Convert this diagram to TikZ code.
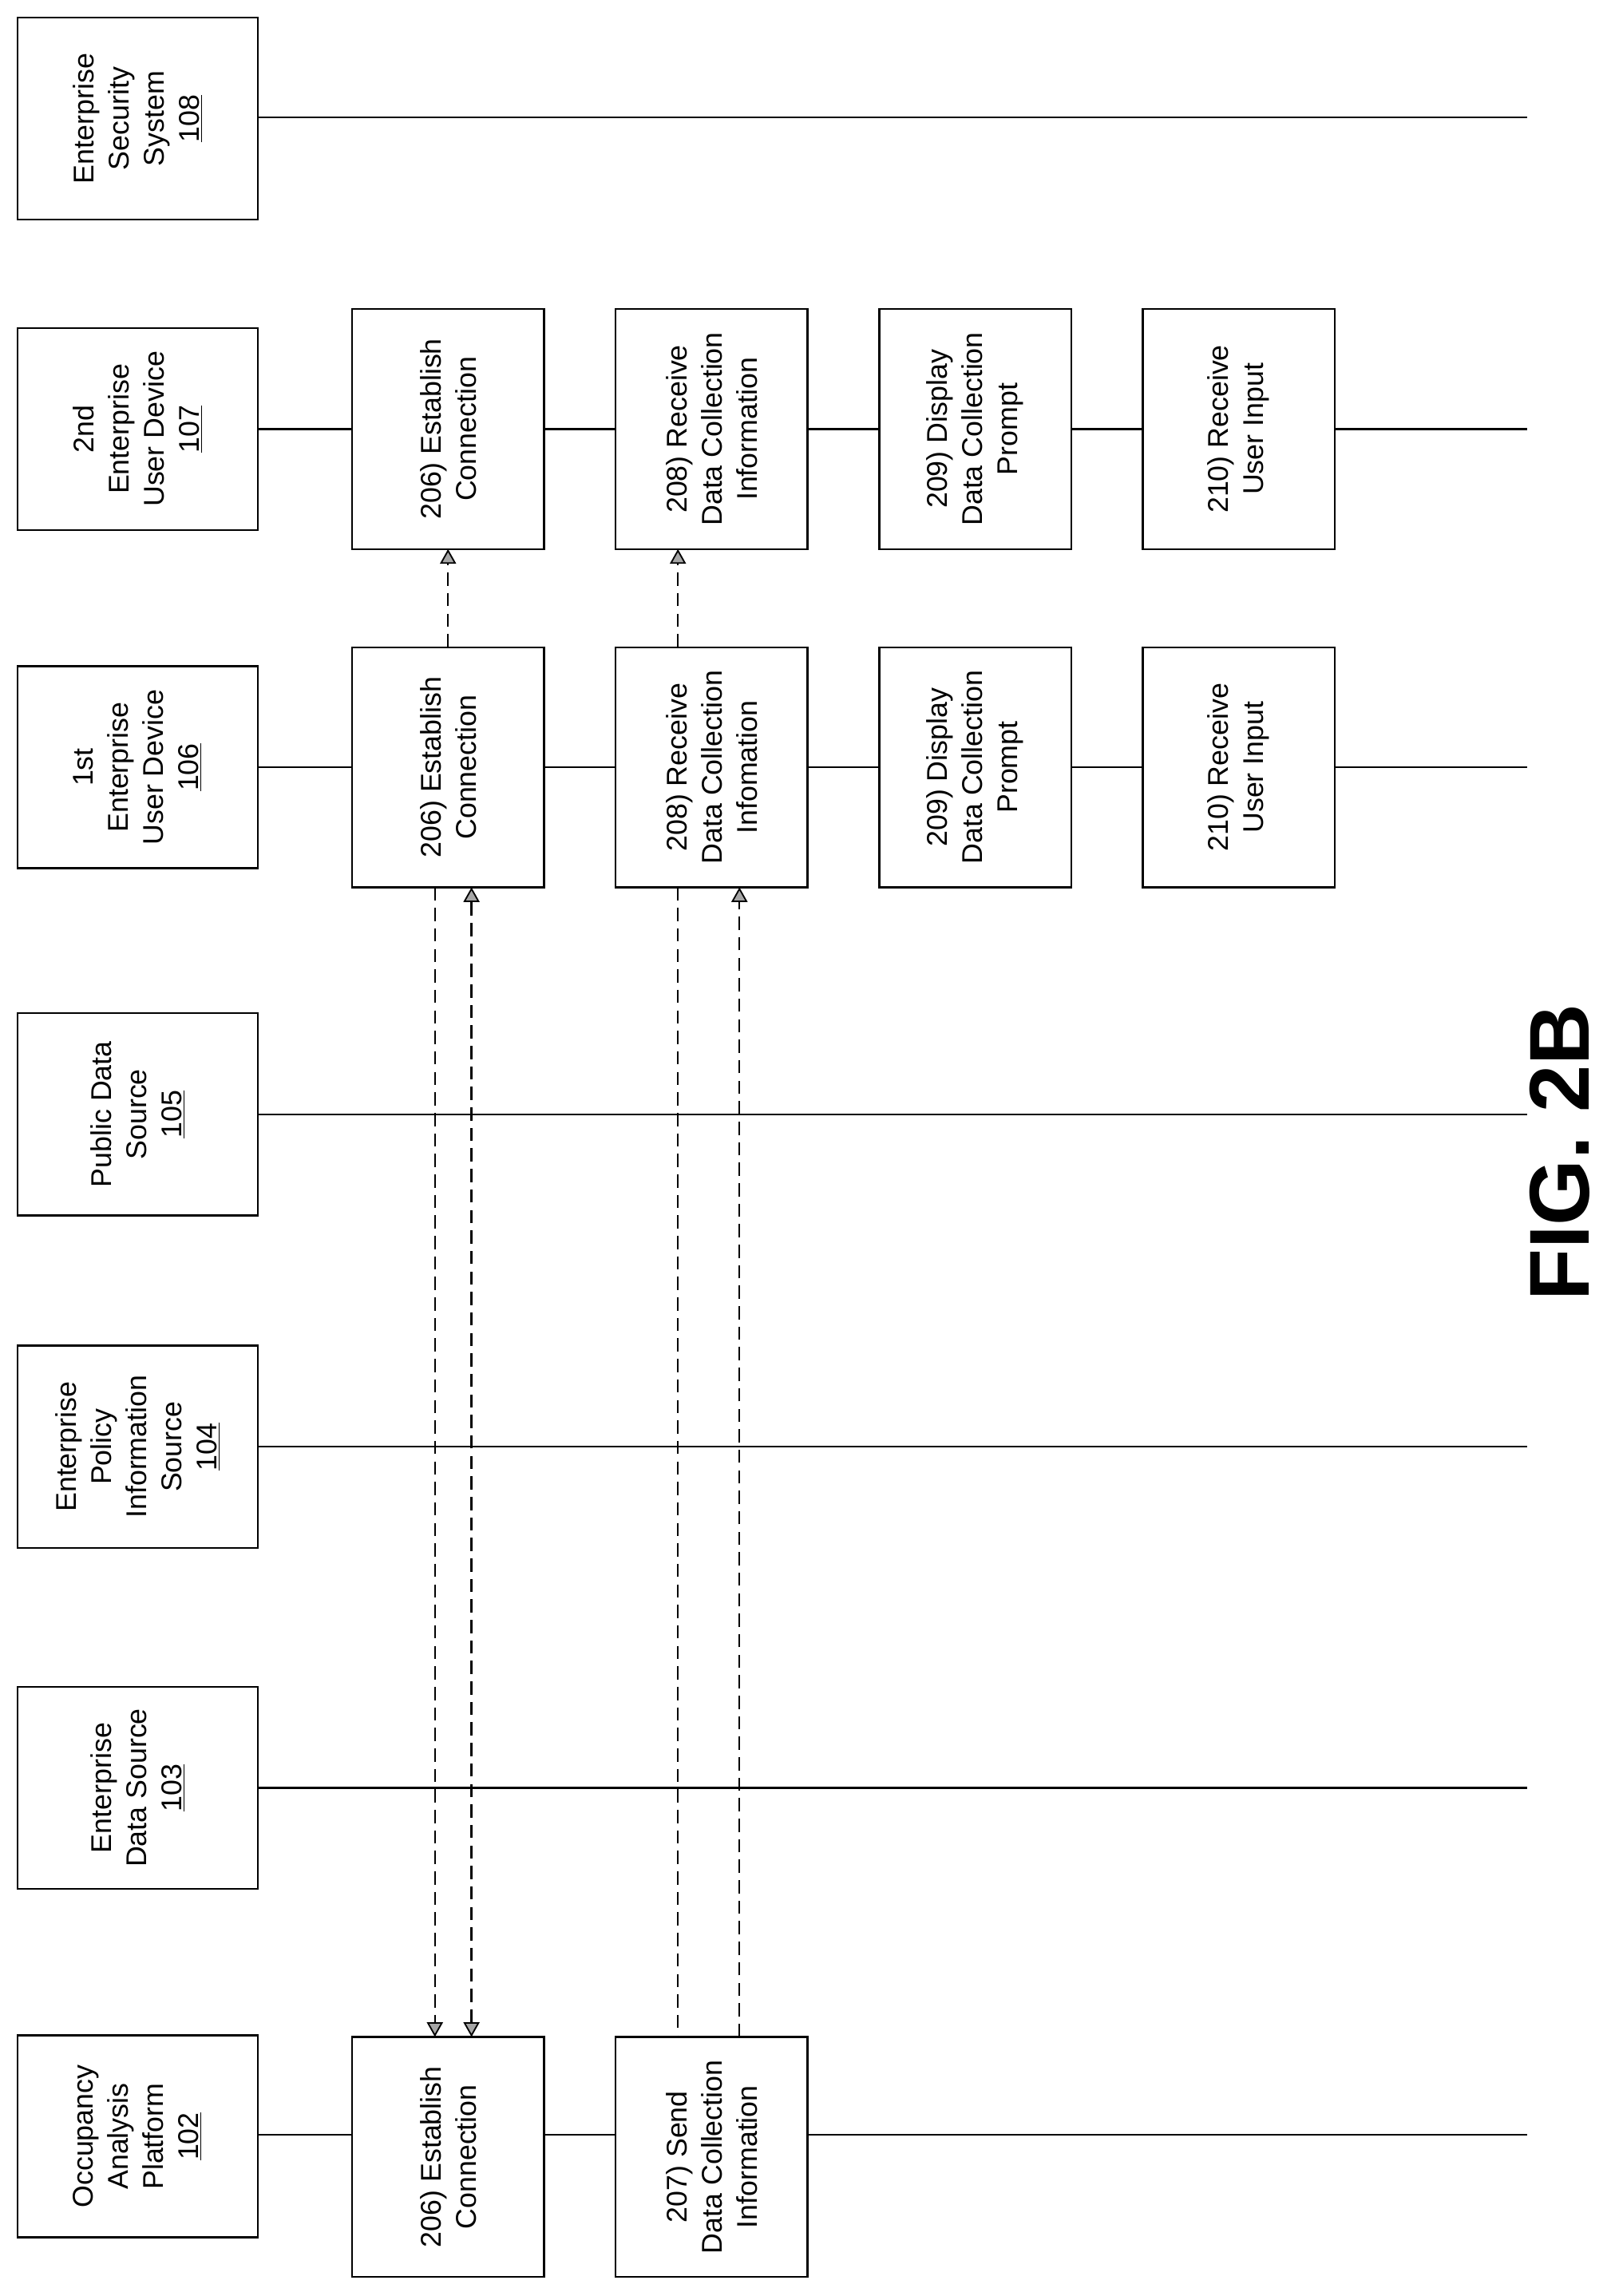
\documentclass[tikz,border=0pt]{standalone}
\usepackage{fontspec}
\setmainfont{Liberation Sans}
\usetikzlibrary{arrows.meta,calc}
\begin{document}
\begin{tikzpicture}[x=1pt,y=-1pt,
  hdr/.style={draw,line width=1.3pt,rotate=90,align=center,minimum width=138pt,minimum height=164pt,fill=white,inner sep=2pt,font=\fontsize{19.5}{24}\selectfont},
  stepbox/.style={draw,line width=1.3pt,rotate=90,align=center,minimum width=164pt,minimum height=131pt,fill=white,inner sep=2pt,font=\fontsize{19.5}{24}\selectfont},
  life/.style={line width=1.3pt},
  dsh/.style={line width=1.3pt,dash pattern=on 9pt off 5pt},
  tip/.style={-{Triangle[length=10pt,width=11pt,fill=gray!70,line width=1pt]}},
  tips/.style={{Triangle[length=10pt,width=11pt,fill=gray!70,line width=1pt]}-{Triangle[length=10pt,width=11pt,fill=gray!70,line width=1pt]}}]
\useasboundingbox (0,0) rectangle (1100,1568);
% lifelines
\foreach \n/\y in {a/80,b/293,c/524,d/761,e/988,f/1221,g/1458}{
  \coordinate (s\n) at (176,\y); \coordinate (t\n) at (1043,\y);
  \draw[life] (s\n) -- (t\n);}
% headers
\node[hdr] (h108) at (94,81) {Enterprise\\Security\\System\\\underline{108}};
\node[hdr] (h107) at (94,293) {2nd\\Enterprise\\User Device\\\underline{107}};
\node[hdr] (h106) at (94,524) {1st\\Enterprise\\User Device\\\underline{106}};
\node[hdr] (h105) at (94,761) {Public Data\\Source\\\underline{105}};
\node[hdr] (h104) at (94,988) {Enterprise\\Policy\\Information\\Source\\\underline{104}};
\node[hdr] (h103) at (94,1221) {Enterprise\\Data Source\\\underline{103}};
\node[hdr] (h102) at (94,1459) {Occupancy\\Analysis\\Platform\\\underline{102}};
% steps
\node[stepbox] (b1) at (306,293) {206) Establish\\Connection};
\node[stepbox] (b2) at (486,293) {208) Receive\\Data Collection\\Information};
\node[stepbox] (b3) at (666,293) {209) Display\\Data Collection\\Prompt};
\node[stepbox] (b4) at (846,293) {210) Receive\\User Input};
\node[stepbox] (c1) at (306,524) {206) Establish\\Connection};
\node[stepbox] (c2) at (486,524) {208) Receive\\Data Collection\\Infomation};
\node[stepbox] (c3) at (666,524) {209) Display\\Data Collection\\Prompt};
\node[stepbox] (c4) at (846,524) {210) Receive\\User Input};
\node[stepbox] (g1) at (306,1473) {206) Establish\\Connection};
\node[stepbox] (g2) at (486,1473) {207) Send\\Data Collection\\Information};
% dashed messages
\draw[dsh,tip] ($(c1.center)+(0,-82)$) -- ($(b1.center)+(0,82)$);
\draw[dsh,tip] ($(c2.center)+(-23,-82)$) -- ($(b2.center)+(-23,82)$);
\draw[dsh,tip] ($(c1.center)+(-9,82)$) -- ($(g1.center)+(-9,-82)$);
\draw[dsh,tips] ($(g1.center)+(16,-82)$) -- ($(c1.center)+(16,82)$);
\draw[dsh] ($(c2.center)+(-23,82)$) -- ($(g2.center)+(-23,-82)$);
\draw[dsh,tip] ($(g2.center)+(19,-82)$) -- ($(c2.center)+(19,82)$);
\node[rotate=90,font=\bfseries\fontsize{58}{60}\selectfont] (fig) at (1065,787) {FIG. 2B};
\end{tikzpicture}
\end{document}
